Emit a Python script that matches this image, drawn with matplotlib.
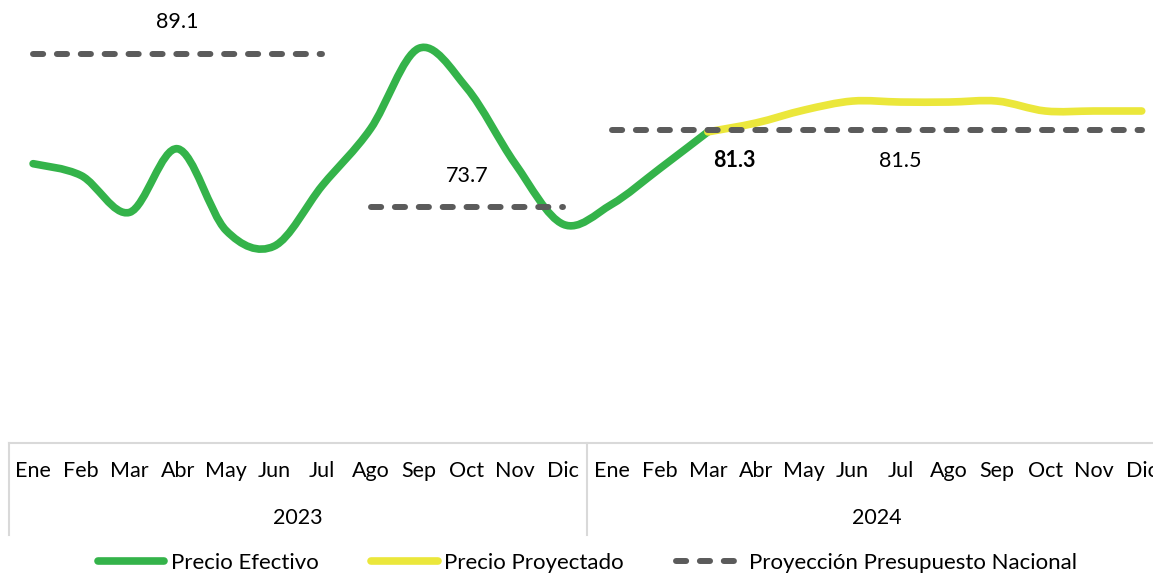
import numpy as np
import matplotlib
matplotlib.use("Agg")
import matplotlib.pyplot as plt
from matplotlib.path import Path
from matplotlib.patches import PathPatch
from matplotlib.lines import Line2D
from matplotlib import transforms

plt.rcParams['font.family'] = ['Lato', 'DejaVu Sans']

# data
months = ['Ene', 'Feb', 'Mar', 'Abr', 'May', 'Jun', 'Jul', 'Ago', 'Sep', 'Oct', 'Nov', 'Dic']
years = ['2023', '2024']
precio_efectivo = [78.1, 76.9, 73.2, 79.6, 71.4, 69.8, 75.9, 81.6, 89.7, 85.7, 78.1, 72.0,
                   74.0, 77.6, 81.3]
precio_proyectado = [81.3, 82.2, 83.5, 84.4, 84.3, 84.3, 84.4, 83.4, 83.4, 83.4]
presupuesto_2023a = [89.1] * 7      # Ene-Jul 2023
presupuesto_2023b = [73.7] * 5      # Ago-Dic 2023
presupuesto_2024 = [81.5] * 12      # Ene-Dic 2024

GREEN = '#34B34A'
YELLOW = '#EBE73B'
GRAY = '#5B5B5B'
AXIS = '#D9D9D9'
FS = 15.5


def smooth_path(x, y):
    # excel-like smoothed line: cubic bezier segments (catmull-rom, 1/6 tension)
    p = np.column_stack([x, y]).astype(float)
    n = len(p)
    verts = [p[0]]
    codes = [Path.MOVETO]
    for i in range(n - 1):
        p0 = p[i - 1] if i > 0 else p[i]
        p3 = p[i + 2] if i + 2 < n else p[i + 1]
        c1 = p[i] + (p[i + 1] - p0) / 6.0
        c2 = p[i + 1] - (p3 - p[i]) / 6.0
        verts += [c1, c2, p[i + 1]]
        codes += [Path.CURVE4] * 3
    return Path(verts, codes)


W, H = 1153, 575
fig = plt.figure(figsize=(W / 100, H / 100), dpi=100)
px_x = 48.2
x0 = 9.0
ax_bottom = 443
ymin, ymax = 50, 95
px_unit = 9.94
ax_h = (ymax - ymin) * px_unit
ax = fig.add_axes([x0 / W, (H - ax_bottom) / H, 24 * px_x / W, ax_h / H])
ax.set_xlim(-0.5, 23.5)
ax.set_ylim(ymin, ymax)

xe = np.arange(len(precio_efectivo))
xp = np.arange(len(precio_proyectado)) + 14
ax.add_patch(PathPatch(smooth_path(xe, precio_efectivo), fill=False, edgecolor=GREEN,
                       lw=5.5, capstyle='round', joinstyle='round', zorder=3))
ax.add_patch(PathPatch(smooth_path(xp, precio_proyectado), fill=False, edgecolor=YELLOW,
                       lw=5.5, capstyle='round', joinstyle='round', zorder=4))

dash_kw = dict(color=GRAY, lw=4.3, dashes=(1.7, 2.3), dash_capstyle='round', zorder=5)
ax.plot(np.arange(0, 7), presupuesto_2023a, **dash_kw)
ax.plot(np.arange(7, 12), presupuesto_2023b, **dash_kw)
ax.plot(np.arange(12, 24), presupuesto_2024, **dash_kw)

# data labels
ax.text(3, 89.1 + 3.3, '89.1', ha='center', va='center', fontsize=FS)
ax.text(9, 73.7 + 3.2, '73.7', ha='center', va='center', fontsize=FS)
ax.text(18, 81.5 - 3.1, '81.5', ha='center', va='center', fontsize=FS)
ax.text(14.55, 81.5 - 3.1, '81.3', ha='center', va='center', fontsize=FS, fontweight='bold')

# axes / category table
for s in ['top', 'left', 'right']:
    ax.spines[s].set_visible(False)
ax.spines['bottom'].set_color(AXIS)
ax.spines['bottom'].set_linewidth(1.5)
ax.set_yticks([])
ax.set_xticks(np.arange(24))
ax.set_xticklabels(months * 2, fontsize=FS)
ax.tick_params(axis='x', length=0, pad=13)

trans = transforms.blended_transform_factory(ax.transData, ax.transAxes)
sep_low = -92 / ax_h
for xs in [-0.5, 11.5, 23.5]:
    ax.add_line(Line2D([xs, xs], [0, sep_low], transform=trans, color=AXIS, lw=1.5, clip_on=False))
for i, yr in enumerate(years):
    ax.text(5.5 + 12 * i, -75 / ax_h, yr, transform=trans, ha='center', va='center', fontsize=FS)

# legend
handles = [Line2D([], [], color=GREEN, lw=5.5, solid_capstyle='round'),
           Line2D([], [], color=YELLOW, lw=5.5, solid_capstyle='round'),
           Line2D([], [], color=GRAY, lw=4.3, dashes=(1.7, 2.3), dash_capstyle='round')]
fig.legend(handles, ['Precio Efectivo', 'Precio Proyectado', 'Proyección Presupuesto Nacional'],
           loc='center', bbox_to_anchor=(0.5 + 11 / W, 1 - 563 / H), ncol=3, frameon=False,
           fontsize=16, handlelength=3.0, handletextpad=0.3, columnspacing=2.35,
           borderpad=0, borderaxespad=0)

fig.savefig('out.png', dpi=100)
